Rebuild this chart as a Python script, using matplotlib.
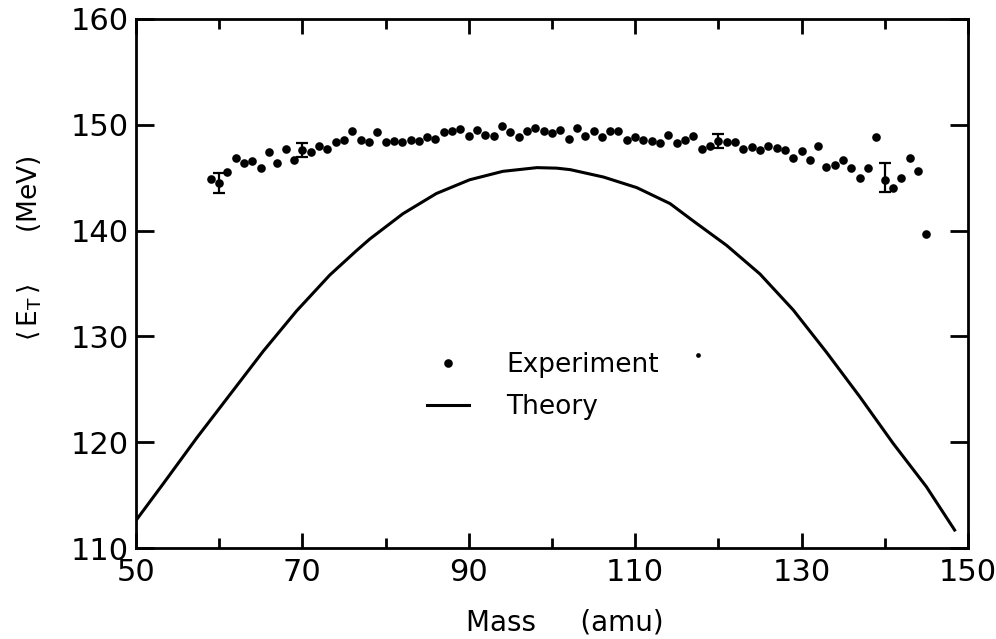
import matplotlib
matplotlib.use("Agg")
import matplotlib.pyplot as plt
from matplotlib.lines import Line2D

plt.rcParams['font.family'] = ['DejaVu Sans']
plt.rcParams['mathtext.fontset'] = 'dejavusans'

# experiment: <E_T> vs fragment mass
exp_mass = [59, 60, 61, 62, 63, 64, 65, 66, 67, 68, 69, 70, 71, 72, 73, 74, 75,
            76, 77, 78, 79, 80, 81, 82, 83, 84, 85, 86, 87, 88, 89, 90, 91, 92,
            93, 94, 95, 96, 97, 98, 99, 100, 101, 102, 103, 104, 105, 106, 107,
            108, 109, 110, 111, 112, 113, 114, 115, 116, 117, 118, 119, 120, 121,
            122, 123, 124, 125, 126, 127, 128, 129, 130, 131, 132, 133, 134, 135,
            136, 137, 138, 139, 140, 141, 142, 143, 144, 145]
exp_E = [144.9, 144.5, 145.5, 146.9, 146.4, 146.6, 145.9, 147.4, 146.4, 147.7,
         146.7, 147.6, 147.4, 148.0, 147.7, 148.4, 148.6, 149.4, 148.6, 148.4,
         149.3, 148.4, 148.5, 148.4, 148.6, 148.5, 148.8, 148.7, 149.3, 149.4,
         149.6, 148.9, 149.5, 149.0, 148.9, 149.9, 149.3, 148.8, 149.4, 149.7,
         149.4, 149.2, 149.5, 148.7, 149.7, 148.9, 149.4, 148.8, 149.4, 149.4,
         148.6, 148.8, 148.6, 148.5, 148.3, 149.0, 148.3, 148.6, 148.9, 147.7,
         148.0, 148.5, 148.4, 148.4, 147.7, 147.9, 147.6, 148.0, 147.8, 147.6,
         146.9, 147.5, 146.7, 148.0, 146.0, 146.2, 146.7, 145.9, 145.0, 145.9,
         148.8, 144.8, 144.0, 145.0, 146.9, 145.6, 139.7]

# error bars shown on a few points
err_mass = [60, 70, 120, 140]
err_E = [144.5, 147.6, 148.5, 145.0]
err_size = [0.95, 0.65, 0.65, 1.4]

# stray mark near the legend
stray_mass = [117.5]
stray_E = [128.2]

# theory curve
th_mass = [50, 53.3, 57.3, 61.3, 65.3, 69.3, 73.3, 76.5, 78.1, 82.1, 86.1, 90.1,
           94.1, 98.2, 100.6, 102.2, 106.2, 110.2, 114.2, 117, 121, 125, 129,
           133, 137, 141, 145, 148.4]
th_E = [112.6, 116.1, 120.4, 124.5, 128.6, 132.4, 135.8, 138.1, 139.2, 141.6,
        143.5, 144.8, 145.6, 145.95, 145.9, 145.76, 145.06, 144.06, 142.55,
        140.9, 138.6, 135.9, 132.5, 128.5, 124.3, 119.9, 115.8, 111.7]

xticks = [50, 70, 90, 110, 130, 150]
xminor = [60, 80, 100, 120, 140]
yticks = [110, 120, 130, 140, 150, 160]

fig = plt.figure(figsize=(9.96, 6.39), dpi=100)
ax = fig.add_axes([0.1365, 0.1424, 0.8353, 0.8279])

ax.plot(th_mass, th_E, color='black', lw=2.2, solid_joinstyle='round')
ax.plot(exp_mass, exp_E, 'o', color='black', ms=6.2, mew=0)
ax.errorbar(err_mass, err_E, yerr=err_size, fmt='none', ecolor='black',
            elinewidth=1.6, capsize=4.5, capthick=1.6)
ax.plot(stray_mass, stray_E, 'o', color='black', ms=3.4, mew=0)

ax.set_xlim(50, 150)
ax.set_ylim(110, 160)
ax.set_xticks(xticks)
ax.set_xticks(xminor, minor=True)
ax.set_yticks(yticks)

for s in ax.spines.values():
    s.set_linewidth(2.0)
ax.tick_params(which='both', direction='in', top=True, right=True, width=2.0,
               labelsize=22)
ax.tick_params(axis='x', which='major', length=11, pad=7)
ax.tick_params(axis='x', which='minor', length=7.5)
ax.tick_params(axis='y', which='major', length=13, pad=5)

ax.set_xlabel('Mass     (amu)', fontsize=20)
ax.xaxis.set_label_coords(0.515, -0.115)
ax.set_ylabel(r'$\langle\,\mathrm{E_T}\,\rangle$      (MeV)', fontsize=19)
ax.yaxis.set_label_coords(-0.11, 0.567)

handles = [Line2D([], [], marker='o', ls='none', color='black', ms=6.2, mew=0),
           Line2D([], [], color='black', lw=2.2)]
ax.legend(handles, ['Experiment', 'Theory'], loc='upper left',
          bbox_to_anchor=(0.35, 0.37), frameon=False, fontsize=19,
          handlelength=1.6, handletextpad=1.4, labelspacing=0.6,
          borderpad=0, borderaxespad=0)

fig.savefig('out.png', dpi=100)
